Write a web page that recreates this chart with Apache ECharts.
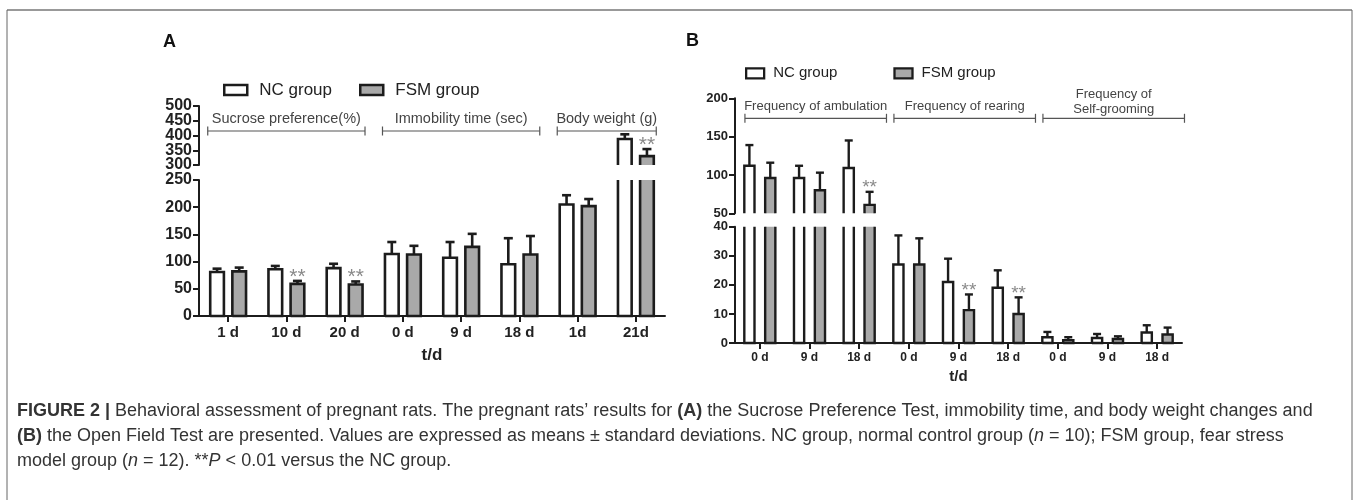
<!DOCTYPE html>
<html><head><meta charset="utf-8">
<script src="https://cdn.jsdelivr.net/npm/echarts@6/dist/echarts.min.js"></script>
<style>html,body{margin:0;padding:0;background:#fff}#c{width:1358px;height:500px}</style>
</head><body><div id="c"></div>
<script>
// ---------- Panel A data ----------
const catsA = ['1 d', '10 d', '20 d', '0 d', '9 d', '18 d', '1d', '21d'];
const ncMeanA = [81, 86, 88, 114, 107, 95, 205, 388];
const ncSdA = [6, 6, 8, 22, 29, 48, 17, 16];
const fsmMeanA = [82, 59, 58, 113, 127, 113, 202, 330];
const fsmSdA = [7, 5.5, 5.5, 16, 24, 34, 13, 24];
const sigA = ['', '**', '**', '', '', '', '', '**'];
const groupsA = [
  { label: 'Sucrose preference(%)', from: 0, to: 2 },
  { label: 'Immobility time (sec)', from: 3, to: 5 },
  { label: 'Body weight (g)', from: 6, to: 7 }
];
// ---------- Panel B data ----------
const catsB = ['0 d', '9 d', '18 d', '0 d', '9 d', '18 d', '0 d', '9 d', '18 d'];
const ncMeanB = [112, 96, 109, 27, 21, 19, 2, 1.7, 3.6];
const ncSdB = [27, 16, 36, 10, 8, 6, 1.8, 1.4, 2.5];
const fsmMeanB = [96, 80, 61, 27, 11.3, 10, 1, 1.4, 2.9];
const fsmSdB = [20, 23, 17, 9, 5.4, 5.7, 1, 0.9, 2.4];
const sigB = ['', '', '**', '', '**', '**', '', '', ''];
const groupsB = [
  { label: 'Frequency of ambulation', from: 0, to: 2 },
  { label: 'Frequency of rearing', from: 3, to: 5 },
  { label: 'Frequency of\nSelf-grooming', from: 6, to: 8 }
];
const seriesNames = ['NC group', 'FSM group'];

// ---------- styling ----------
const FONT = "'Liberation Sans', Arial, Helvetica, sans-serif";
const STROKE = '#1c1c1c';
const GRAY = '#a9a9a9';
const STAR = '#8a8a8a';

function barSeries(o) {
  const data = o.values.map((v, i) => [i, v, o.sds[i]]);
  return {
    type: 'custom', name: o.name, xAxisIndex: o.axis, yAxisIndex: o.axis,
    data: data, clip: false, silent: true, encode: { x: 0, y: 1 },
    itemStyle: { color: o.fill, borderColor: STROKE },
    renderItem: function (params, api) {
      const i = api.value(0), v = api.value(1), sd = api.value(2);
      const cs = params.coordSys;
      const band = api.size([1, 0])[0];
      const cx = api.coord([i, 0])[0] + o.side * o.offFrac * band;
      const w = o.barFrac * band;
      const x0 = cx - w / 2, x1 = cx + w / 2;
      const yBottom = cs.y + cs.height;
      let yTop, open = null;
      if (!o.upper) {
        if (v > o.segMax) { yTop = cs.y; open = 'top'; }
        else { yTop = api.coord([i, v])[1]; }
      } else {
        if (v <= o.segMin) return null;
        yTop = api.coord([i, v])[1]; open = 'bottom';
      }
      const ch = [];
      ch.push({ type: 'rect', shape: { x: x0, y: yTop, width: w, height: yBottom - yTop }, style: { fill: o.fill, stroke: null } });
      let pts;
      if (open === 'top') pts = [[x0, yTop], [x0, yBottom], [x1, yBottom], [x1, yTop]];
      else if (open === 'bottom') pts = [[x0, yBottom], [x0, yTop], [x1, yTop], [x1, yBottom]];
      else pts = [[x0, yBottom], [x0, yTop], [x1, yTop], [x1, yBottom], [x0, yBottom]];
      ch.push({ type: 'polyline', shape: { points: pts }, style: { fill: null, stroke: STROKE, lineWidth: o.lw, lineJoin: 'miter' } });
      if (open !== 'top') {
        const yE = api.coord([i, v + sd])[1];
        ch.push({ type: 'line', shape: { x1: cx, y1: yTop, x2: cx, y2: yE }, style: { stroke: STROKE, lineWidth: o.lw } });
        ch.push({ type: 'line', shape: { x1: cx - o.capW / 2, y1: yE, x2: cx + o.capW / 2, y2: yE }, style: { stroke: STROKE, lineWidth: o.lw } });
        const s = o.sig[i];
        if (s) ch.push({ type: 'text', x: cx, y: yE - o.starGap, style: { text: s, fill: STAR, font: o.starFont, align: 'center', verticalAlign: 'middle' } });
      }
      return { type: 'group', children: ch };
    }
  };
}

function bracketSeries(axis, groups, c) {
  return {
    type: 'custom', xAxisIndex: axis, yAxisIndex: axis, silent: true, clip: false,
    data: groups.map((g, k) => [g.from, g.to, k]), encode: { x: 0, y: 2 },
    renderItem: function (params, api) {
      const g = groups[params.dataIndex];
      const band = api.size([1, 0])[0];
      const xa = api.coord([api.value(0), 0])[0] - c.padL * band;
      const xb = api.coord([api.value(1), 0])[0] + c.padR * band;
      const y = params.coordSys.y + c.dy;
      const st = { stroke: '#555', lineWidth: 1.2 };
      const multi = g.label.indexOf('\n') >= 0;
      return {
        type: 'group', children: [
          { type: 'line', shape: { x1: xa, y1: y, x2: xb, y2: y }, style: st },
          { type: 'line', shape: { x1: xa, y1: y - 4.5, x2: xa, y2: y + 4.5 }, style: st },
          { type: 'line', shape: { x1: xb, y1: y - 4.5, x2: xb, y2: y + 4.5 }, style: st },
          { type: 'text', x: (xa + xb) / 2, y: y - (multi ? c.textGap - 3 : c.textGap), style: { text: g.label, fill: '#444', font: c.font, align: 'center', verticalAlign: 'bottom', lineHeight: c.lh } }
        ]
      };
    }
  };
}

function yAx(grid, min, max, interval, fs, extra) {
  return Object.assign({
    type: 'value', gridIndex: grid, min: min, max: max, interval: interval,
    axisLine: { show: true, lineStyle: { color: STROKE, width: 2 } },
    axisTick: { show: true, length: 6, lineStyle: { color: STROKE, width: 2 } },
    axisLabel: { fontFamily: FONT, fontWeight: 'bold', fontSize: fs, color: '#222', margin: 7, showMinLabel: true, showMaxLabel: true, hideOverlap: false },
    splitLine: { show: false }
  }, extra || {});
}
function xAx(grid, cats, show, fs, nameFs, nameGap) {
  return {
    type: 'category', gridIndex: grid, data: cats, show: show,
    axisLine: { show: true, lineStyle: { color: STROKE, width: 2 } },
    axisTick: { show: true, alignWithLabel: true, length: 6, lineStyle: { color: STROKE, width: 2 } },
    axisLabel: { interval: 0, fontFamily: FONT, fontWeight: 'bold', fontSize: fs, color: '#222', margin: 9 },
    name: show ? 't/d' : '', nameLocation: 'middle', nameGap: nameGap,
    nameTextStyle: { fontFamily: FONT, fontWeight: 'bold', fontSize: nameFs, color: '#222' }
  };
}

const cfgA = { barFrac: 0.235, offFrac: 0.19, capW: 9, lw: 2.6, starGap: 4, starFont: '21px ' + FONT };
const cfgB = { barFrac: 0.205, offFrac: 0.21, capW: 8, lw: 2.4, starGap: 4, starFont: '19px ' + FONT };

function panelSeries(axLow, axUp, nc, ncSd, fsm, fsmSd, sig, cfg, lowMax, upMin) {
  const out = [];
  [[nc, ncSd, '#ffffff', -1, seriesNames[0]], [fsm, fsmSd, GRAY, 1, seriesNames[1]]].forEach(function (s) {
    const sg = s[3] > 0 ? sig : [];
    out.push(barSeries(Object.assign({}, cfg, { name: s[4], axis: axLow, values: s[0], sds: s[1], fill: s[2], side: s[3], sig: sg, upper: false, segMax: lowMax })));
    out.push(barSeries(Object.assign({}, cfg, { name: s[4], axis: axUp, values: s[0], sds: s[1], fill: s[2], side: s[3], sig: sg, upper: true, segMin: upMin })));
  });
  return out;
}

const series = []
  .concat(panelSeries(0, 1, ncMeanA, ncSdA, fsmMeanA, fsmSdA, sigA, cfgA, 250, 300))
  .concat(panelSeries(2, 3, ncMeanB, ncSdB, fsmMeanB, fsmSdB, sigB, cfgB, 40, 50))
  .concat([
    bracketSeries(1, groupsA, { padL: 0.35, padR: 0.35, dy: 25, textGap: 5, font: '14.5px ' + FONT, lh: 15 }),
    bracketSeries(3, groupsB, { padL: 0.3, padR: 0.55, dy: 20, textGap: 5, font: '13px ' + FONT, lh: 14.5 })
  ]);

const CAPFS = 18;
const capBase = { fontFamily: FONT, fontSize: CAPFS, fill: '#333' };
const rich = {
  b: { fontFamily: FONT, fontSize: CAPFS, fontWeight: 'bold', fill: '#333' },
  i: { fontFamily: FONT, fontSize: CAPFS, fontStyle: 'italic', fill: '#333' }
};
const capLines = [
  '{b|FIGURE 2 |} Behavioral assessment of pregnant rats. The pregnant rats\u2019 results for {b|(A)} the Sucrose Preference Test, immobility time, and body weight changes and',
  '{b|(B)} the Open Field Test are presented. Values are expressed as means \u00b1 standard deviations. NC group, normal control group ({i|n} = 10); FSM group, fear stress',
  'model group ({i|n} = 12). **{i|P} < 0.01 versus the NC group.'
];

const graphic = [
  { type: 'line', shape: { x1: 7, y1: 10, x2: 1352, y2: 10 }, style: { stroke: '#999', lineWidth: 2 } },
  { type: 'line', shape: { x1: 7, y1: 10, x2: 7, y2: 500 }, style: { stroke: '#666', lineWidth: 1 } },
  { type: 'line', shape: { x1: 1352, y1: 10, x2: 1352, y2: 500 }, style: { stroke: '#666', lineWidth: 1 } },
  { type: 'text', x: 163, y: 42, style: { text: 'A', fontFamily: FONT, fontSize: 18, fontWeight: 'bold', fill: '#111', verticalAlign: 'middle' } },
  { type: 'text', x: 686, y: 41, style: { text: 'B', fontFamily: FONT, fontSize: 18, fontWeight: 'bold', fill: '#111', verticalAlign: 'middle' } }
].concat(capLines.map(function (t, k) {
  return { type: 'text', x: 17, y: 411 + k * 25, style: Object.assign({ text: t, rich: rich, verticalAlign: 'middle' }, capBase) };
}));

const legendData = function (bw) {
  return [
    { name: seriesNames[0], itemStyle: { color: '#ffffff', borderColor: STROKE, borderWidth: bw } },
    { name: seriesNames[1], itemStyle: { color: GRAY, borderColor: STROKE, borderWidth: bw } }
  ];
};

// upper panel-A axis labels are split over two coincident axes so none is hidden by overlap
const upA1 = yAx(1, 300, 500, 50, 16);
upA1.axisLabel.formatter = function (v) { return v % 100 === 0 ? String(v) : ''; };
const upA2 = yAx(1, 300, 500, 50, 16, { axisLine: { show: false }, axisTick: { show: false } });
upA2.axisLabel.formatter = function (v) { return v % 100 === 50 ? String(v) : ''; };

const option = {
  backgroundColor: '#ffffff',
  animation: false,
  grid: [
    { left: 199, right: 693, top: 180, bottom: 184 },
    { left: 199, right: 693, top: 106, bottom: 335 },
    { left: 735, right: 176, top: 226.7, bottom: 157 },
    { left: 735, right: 176, top: 98.3, bottom: 286.7 }
  ],
  xAxis: [
    xAx(0, catsA, true, 15, 17, 31),
    xAx(1, catsA, false, 15, 17, 31),
    xAx(2, catsB, true, 12, 15, 26),
    xAx(3, catsB, false, 12, 15, 26)
  ],
  yAxis: [
    yAx(0, 0, 250, 50, 16),
    upA1,
    yAx(2, 0, 40, 10, 13),
    yAx(3, 50, 200, 50, 13),
    Object.assign(upA2, { position: 'left', offset: 0 })
  ],
  legend: [
    { left: 223, top: 81.5, padding: 0, orient: 'horizontal', icon: 'rect', itemWidth: 23, itemHeight: 10, itemGap: 27, selectedMode: false,
      textStyle: { fontFamily: FONT, fontSize: 17, color: '#222', padding: [0, 0, 0, 7] }, data: legendData(2.5) },
    { left: 745, top: 65.8, padding: 0, orient: 'horizontal', icon: 'rect', itemWidth: 18, itemHeight: 10, itemGap: 56, selectedMode: false,
      textStyle: { fontFamily: FONT, fontSize: 15, color: '#222', padding: [0, 0, 0, 4] }, data: legendData(2.3) }
  ],
  series: series,
  graphic: graphic
};

const chart = echarts.init(document.getElementById('c'));
chart.setOption(option);
</script>
</body></html>
